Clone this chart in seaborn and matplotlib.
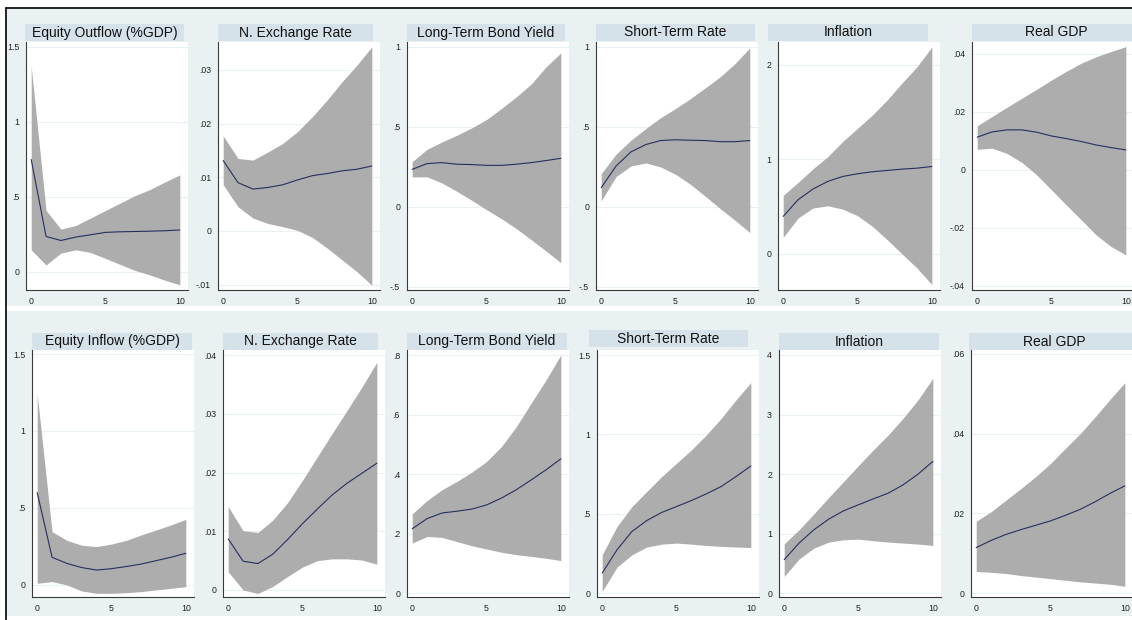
import numpy as np
import matplotlib
matplotlib.use("Agg")
import matplotlib.pyplot as plt
import seaborn as sns
from matplotlib.patches import Rectangle
from matplotlib.ticker import FuncFormatter

# Horizons
steps = list(range(11))

# Top row: equity outflow shock
titles_top = ["Equity Outflow (%GDP)", "N. Exchange Rate", "Long-Term Bond Yield",
              "Short-Term Rate", "Inflation", "Real GDP"]

out_flow_irf = [0.75, 0.237, 0.21, 0.233, 0.248, 0.264, 0.268, 0.27, 0.272, 0.275, 0.28]
out_flow_hi = [1.37, 0.41, 0.286, 0.31, 0.36, 0.41, 0.46, 0.51, 0.55, 0.60, 0.647]
out_flow_lo = [0.148, 0.047, 0.126, 0.148, 0.13, 0.09, 0.05, 0.01, -0.02, -0.055, -0.085]

out_fx_irf = [0.0131, 0.0090, 0.0078, 0.0081, 0.0086, 0.0095, 0.0103, 0.0107, 0.0112, 0.0115, 0.0121]
out_fx_hi = [0.0177, 0.0135, 0.0132, 0.0147, 0.0163, 0.0185, 0.0213, 0.0244, 0.0278, 0.0309, 0.0343]
out_fx_lo = [0.0086, 0.0045, 0.0024, 0.0014, 0.0008, 0.0001, -0.0012, -0.0032, -0.0054, -0.0076, -0.0101]

out_ltb_irf = [0.235, 0.271, 0.277, 0.267, 0.265, 0.26, 0.26, 0.267, 0.277, 0.29, 0.304]
out_ltb_hi = [0.283, 0.36, 0.406, 0.448, 0.494, 0.546, 0.615, 0.688, 0.767, 0.875, 0.963]
out_ltb_lo = [0.188, 0.188, 0.15, 0.098, 0.042, -0.017, -0.073, -0.135, -0.204, -0.275, -0.348]

out_str_irf = [0.12, 0.256, 0.344, 0.39, 0.415, 0.42, 0.417, 0.415, 0.408, 0.408, 0.415]
out_str_hi = [0.208, 0.33, 0.417, 0.49, 0.558, 0.615, 0.677, 0.744, 0.813, 0.896, 0.994]
out_str_lo = [0.038, 0.19, 0.256, 0.275, 0.25, 0.204, 0.142, 0.067, -0.01, -0.083, -0.16]

out_inf_irf = [0.398, 0.574, 0.687, 0.768, 0.82, 0.849, 0.87, 0.884, 0.898, 0.908, 0.926]
out_inf_hi = [0.62, 0.757, 0.901, 1.03, 1.19, 1.33, 1.47, 1.63, 1.81, 1.98, 2.19]
out_inf_lo = [0.176, 0.38, 0.486, 0.51, 0.475, 0.405, 0.292, 0.151, 0.0, -0.148, -0.324]

out_gdp_irf = [0.0113, 0.0131, 0.0138, 0.0138, 0.0130, 0.0117, 0.0108, 0.0098, 0.0086, 0.0077, 0.0069]
out_gdp_hi = [0.0152, 0.0184, 0.0216, 0.0247, 0.0278, 0.0310, 0.0340, 0.0368, 0.0390, 0.0408, 0.0425]
out_gdp_lo = [0.0071, 0.0075, 0.0057, 0.0026, -0.0017, -0.0069, -0.0121, -0.0172, -0.0224, -0.0264, -0.0293]

# Bottom row: equity inflow shock
titles_bot = ["Equity Inflow (%GDP)", "N. Exchange Rate", "Long-Term Bond Yield",
              "Short-Term Rate", "Inflation", "Real GDP"]

in_flow_irf = [0.60, 0.18, 0.14, 0.113, 0.097, 0.106, 0.12, 0.136, 0.158, 0.18, 0.206]
in_flow_hi = [1.24, 0.346, 0.29, 0.258, 0.249, 0.266, 0.29, 0.325, 0.357, 0.39, 0.426]
in_flow_lo = [0.011, 0.022, 0.0, -0.039, -0.054, -0.054, -0.05, -0.043, -0.032, -0.022, -0.011]

in_fx_irf = [0.0087, 0.0049, 0.0045, 0.0061, 0.0086, 0.0113, 0.0138, 0.0162, 0.0182, 0.0199, 0.0216]
in_fx_hi = [0.0142, 0.0101, 0.0098, 0.0119, 0.0149, 0.0187, 0.0227, 0.0267, 0.0306, 0.0346, 0.0388]
in_fx_lo = [0.0031, 0.0, -0.0006, 0.0006, 0.0023, 0.0039, 0.0050, 0.0053, 0.0053, 0.0051, 0.0044]

in_ltb_irf = [0.216, 0.25, 0.269, 0.275, 0.282, 0.296, 0.319, 0.347, 0.38, 0.414, 0.451]
in_ltb_hi = [0.266, 0.311, 0.347, 0.375, 0.406, 0.442, 0.492, 0.559, 0.638, 0.716, 0.80]
in_ltb_lo = [0.168, 0.19, 0.187, 0.173, 0.159, 0.148, 0.137, 0.129, 0.123, 0.117, 0.109]

in_str_irf = [0.126, 0.273, 0.388, 0.457, 0.508, 0.545, 0.583, 0.625, 0.671, 0.734, 0.801]
in_str_hi = [0.241, 0.42, 0.545, 0.64, 0.734, 0.818, 0.902, 0.996, 1.10, 1.217, 1.326]
in_str_lo = [0.01, 0.164, 0.241, 0.29, 0.308, 0.315, 0.308, 0.30, 0.294, 0.29, 0.287]

in_inf_irf = [0.56, 0.84, 1.063, 1.242, 1.382, 1.483, 1.583, 1.678, 1.818, 1.997, 2.21]
in_inf_hi = [0.828, 1.063, 1.331, 1.606, 1.874, 2.143, 2.406, 2.657, 2.937, 3.245, 3.608]
in_inf_lo = [0.28, 0.571, 0.755, 0.856, 0.895, 0.906, 0.878, 0.856, 0.839, 0.822, 0.80]

in_gdp_irf = [0.0114, 0.0132, 0.0147, 0.0159, 0.0170, 0.0181, 0.0195, 0.0210, 0.0229, 0.0250, 0.0269]
in_gdp_hi = [0.0180, 0.0204, 0.0233, 0.0262, 0.0292, 0.0325, 0.0363, 0.0400, 0.0442, 0.0486, 0.0528]
in_gdp_lo = [0.0054, 0.0052, 0.0049, 0.0044, 0.0040, 0.0036, 0.0032, 0.0028, 0.0025, 0.0022, 0.0017]

# y tick labels for each panel
yticks_top = [[0, 0.5, 1, 1.5], [-0.01, 0, 0.01, 0.02, 0.03], [-0.5, 0, 0.5, 1],
              [-0.5, 0, 0.5, 1], [0, 1, 2], [-0.04, -0.02, 0, 0.02, 0.04]]
yticks_bot = [[0, 0.5, 1, 1.5], [0, 0.01, 0.02, 0.03, 0.04], [0, 0.2, 0.4, 0.6, 0.8],
              [0, 0.5, 1, 1.5], [0, 1, 2, 3, 4], [0, 0.02, 0.04, 0.06]]
xticks = [0, 5, 10]

top_series = [(out_flow_irf, out_flow_lo, out_flow_hi), (out_fx_irf, out_fx_lo, out_fx_hi),
              (out_ltb_irf, out_ltb_lo, out_ltb_hi), (out_str_irf, out_str_lo, out_str_hi),
              (out_inf_irf, out_inf_lo, out_inf_hi), (out_gdp_irf, out_gdp_lo, out_gdp_hi)]
bot_series = [(in_flow_irf, in_flow_lo, in_flow_hi), (in_fx_irf, in_fx_lo, in_fx_hi),
              (in_ltb_irf, in_ltb_lo, in_ltb_hi), (in_str_irf, in_str_lo, in_str_hi),
              (in_inf_irf, in_inf_lo, in_inf_hi), (in_gdp_irf, in_gdp_lo, in_gdp_hi)]

# layout in pixels
W, H = 1132, 620
ylim_top = [(-0.12, 1.533), (-0.011, 0.0352), (-0.519, 1.031), (-0.519, 1.031),
            (-0.381, 2.243), (-0.0414, 0.0441)]
ylim_bot = [(-0.078, 1.526), (-0.0012, 0.0409), (-0.0134, 0.817), (-0.025, 1.532),
            (-0.067, 4.084), (-0.001, 0.061)]
ax_left_top = [26, 218, 407, 596, 778, 972]
ax_left_bot = [32, 223, 407, 597, 779, 971]
ax_w = 162
box_top = [(25, 184, 24), (218, 373, 24), (407, 565, 24), (596, 755, 24), (768, 928, 24), (972, 1140, 24)]
box_bot = [(32, 192, 333), (223, 378, 333), (407, 567, 333), (589, 748, 330), (779, 939, 333), (969, 1140, 333)]

BG = "#EAF1F3"
BOX = "#D5E2E9"
FILL = "#ADADAD"
LINE = "#26305E"

sns.set_style("white")
plt.rcParams["font.family"] = ["Liberation Sans", "DejaVu Sans"]


def stata_fmt(v, pos=None):
    s = "%g" % round(v, 6)
    if s.startswith("0."):
        s = s[1:]
    elif s.startswith("-0."):
        s = "-" + s[2:]
    return s


def frac(x0, y0, x1, y1):
    return [x0 / W, 1 - y1 / H, (x1 - x0) / W, (y1 - y0) / H]


fig = plt.figure(figsize=(W / 100, H / 100), dpi=100)
fig.patch.set_facecolor("white")

# panel backgrounds for the two graphs
for y0, y1 in [(8, 306), (311, 616)]:
    fig.add_artist(Rectangle((6 / W, 1 - y1 / H), (W - 6) / W, (y1 - y0) / H,
                             transform=fig.transFigure, facecolor=BG, edgecolor="none", zorder=-10))


def draw_row(series, titles, yticks, ylims, lefts, boxes, ytop, ybot):
    for (irf, lo, hi), title, yt, yl, left, box in zip(series, titles, yticks, ylims, lefts, boxes):
        ax = fig.add_axes(frac(left, ytop, left + ax_w, ybot))
        ax.set_facecolor("white")
        ax.fill_between(steps, lo, hi, color=FILL, linewidth=0, zorder=2)
        sns.lineplot(x=steps, y=irf, ax=ax, color=LINE, linewidth=0.8, zorder=3)
        ax.set_xlim(-0.35, 10.55)
        ax.set_ylim(*yl)
        ax.set_xticks(xticks)
        ax.set_yticks(yt)
        ax.yaxis.set_major_formatter(FuncFormatter(stata_fmt))
        for v in yt:
            ax.axhline(v, color=BG, linewidth=0.8, zorder=1)
        for s in ["top", "right"]:
            ax.spines[s].set_visible(False)
        for s in ["left", "bottom"]:
            ax.spines[s].set_color("#3a3a3a")
            ax.spines[s].set_linewidth(0.8)
        ax.tick_params(axis="both", labelsize=6.3, length=3, width=0.6, color="#3a3a3a",
                       labelcolor="#222222", pad=2)
        ax.set_xlabel("")
        ax.set_ylabel("")
        bx0, bx1, by0 = box
        fig.add_artist(Rectangle((bx0 / W, 1 - (by0 + 17) / H), (bx1 - bx0) / W, 17 / H,
                                 transform=fig.transFigure, facecolor=BOX, edgecolor="none", zorder=-5))
        fig.text((bx0 + bx1) / 2 / W, 1 - (by0 + 8.5) / H, title, ha="center", va="center",
                 fontsize=10, color="#111111")


draw_row(top_series, titles_top, yticks_top, ylim_top, ax_left_top, box_top, 42, 290)
draw_row(bot_series, titles_bot, yticks_bot, ylim_bot, ax_left_bot, box_bot, 350, 597)

# outer frame of the screenshot
fig.add_artist(Rectangle((0, 0), 6 / W, 1, transform=fig.transFigure,
                         facecolor="white", edgecolor="none", zorder=20))
fig.add_artist(plt.Line2D([6 / W, 6 / W], [0, 1 - 8 / H], transform=fig.transFigure,
                          color="black", linewidth=1.2, zorder=21))
fig.add_artist(plt.Line2D([6 / W, 1], [1 - 8 / H, 1 - 8 / H], transform=fig.transFigure,
                          color="black", linewidth=1.2, zorder=21))

fig.savefig("out.png", dpi=100, facecolor="white")
